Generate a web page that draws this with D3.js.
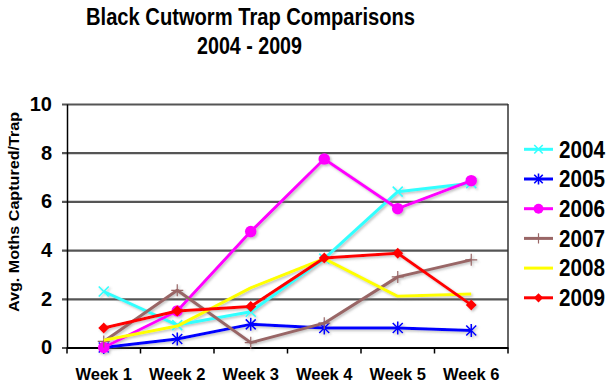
<!DOCTYPE html>
<html><head><meta charset="utf-8">
<script src="https://cdn.jsdelivr.net/npm/d3@7"></script>
<style>
html,body{margin:0;padding:0;background:#fff;}
svg{display:block;font-family:"Liberation Sans",Arial,Helvetica,sans-serif;}
</style></head>
<body>
<svg id="chart" width="613" height="390"></svg>
<script>
const weeks = ["Week 1","Week 2","Week 3","Week 4","Week 5","Week 6"];
const yTicks = [0,2,4,6,8,10];
const years = ["2004","2005","2006","2007","2008","2009"];
const v2004 = [2.3, 0.92, 1.47, 3.65, 6.4, 6.75];
const v2005 = [0.0, 0.35, 0.95, 0.8, 0.8, 0.7];
const v2006 = [0.0, 1.5, 4.76, 7.74, 5.7, 6.85];
const v2007 = [0.25, 2.35, 0.2, 1.0, 2.9, 3.6];
const v2008 = [0.3, 0.88, 2.45, 3.65, 2.1, 2.2];
const v2009 = [0.8, 1.5, 1.68, 3.68, 3.87, 1.75];
const colors = ["#33ffff","#0000ff","#ff00ff","#996666","#ffff00","#ff0000"];
const markers = ["x","asterisk","circle","plus","none","diamond"];
const seriesValues = [v2004, v2005, v2006, v2007, v2008, v2009];

(function(){
const svg = d3.select("#chart");
const pL = 67, pR = 508, pT = 104, pB = 347.5;

const x = d3.scaleBand().domain(weeks).range([pL, pR]);
const cx = d => x(d) + x.bandwidth()/2;
const y = d3.scaleLinear().domain([0,10]).range([pB, pT]);

const defs = svg.append("defs");
const f = defs.append("filter").attr("id","sh").attr("x","-10%").attr("y","-10%").attr("width","130%").attr("height","130%");
f.append("feDropShadow").attr("dx",1.5).attr("dy",1.5).attr("stdDeviation",0.8)
  .attr("flood-color","#777").attr("flood-opacity",0.45);

svg.append("text").attr("x",250.5).attr("y",24.5).attr("text-anchor","middle")
  .attr("font-size",23.5).attr("font-weight","bold")
  .attr("textLength",329).attr("lengthAdjust","spacingAndGlyphs")
  .text("Black Cutworm Trap Comparisons");
svg.append("text").attr("x",249.5).attr("y",53.5).attr("text-anchor","middle")
  .attr("font-size",23.5).attr("font-weight","bold")
  .attr("textLength",105).attr("lengthAdjust","spacingAndGlyphs")
  .text("2004 - 2009");

const grid = svg.append("g").attr("transform",`translate(${pL},0)`)
  .call(d3.axisLeft(y).tickValues(yTicks).tickSize(-(pR-pL)).tickFormat(""));
grid.select(".domain").remove();
grid.selectAll(".tick line").attr("x1",-5).attr("stroke","#555").attr("stroke-width",2.2);

const ya = svg.append("g").attr("transform",`translate(${pL},0)`)
  .call(d3.axisLeft(y).tickValues(yTicks).tickSize(0).tickPadding(15).tickFormat(d3.format("d")));
ya.select(".domain").attr("stroke","#000").attr("stroke-width",1.5);
ya.selectAll(".tick text").attr("font-size",20).attr("font-weight","bold").attr("fill","#000")
  .attr("font-family","Liberation Sans, Arial, sans-serif");

svg.append("line").attr("x1",pR).attr("x2",pR).attr("y1",y(10)).attr("y2",y(0))
  .attr("stroke","#333").attr("stroke-width",1.5);

const xa = svg.append("g").attr("transform",`translate(0,${pB})`)
  .call(d3.axisBottom(x).tickSize(0).tickPadding(21));
xa.select(".domain").attr("stroke","#000").attr("stroke-width",2);
xa.selectAll(".tick text").attr("font-size",16.5).attr("font-weight","bold").attr("fill","#000")
  .attr("font-family","Liberation Sans, Arial, sans-serif");
const bounds = weeks.map(w => x(w)).concat([x.range()[1]]);
svg.append("g").selectAll("line").data(bounds).join("line")
  .attr("x1",d=>d).attr("x2",d=>d).attr("y1",pB).attr("y2",pB+6)
  .attr("stroke","#000").attr("stroke-width",1.5);

svg.append("text").attr("transform","translate(19,212) rotate(-90)")
  .attr("text-anchor","middle").attr("font-size",15.5).attr("font-weight","bold")
  .attr("textLength",200).attr("lengthAdjust","spacingAndGlyphs")
  .text("Avg. Moths Captured/Trap");

function drawMarker(g, type, color, px, py, scale){
  const s = scale || 1;
  if(type==="x"){
    const r=5*s;
    g.append("path").attr("d",`M${px-r},${py-r}L${px+r},${py+r}M${px-r},${py+r}L${px+r},${py-r}`)
      .attr("stroke",color).attr("stroke-width",1.6).attr("fill","none");
  } else if(type==="asterisk"){
    const r=5*s;
    g.append("path").attr("d",`M${px-r},${py-r}L${px+r},${py+r}M${px-r},${py+r}L${px+r},${py-r}M${px},${py-r*1.3}L${px},${py+r*1.3}`)
      .attr("stroke",color).attr("stroke-width",1.6).attr("fill","none");
  } else if(type==="circle"){
    g.append("circle").attr("cx",px).attr("cy",py).attr("r",5.8*s).attr("fill",color);
  } else if(type==="plus"){
    const r=6*s;
    g.append("path").attr("d",`M${px-r},${py}L${px+r},${py}M${px},${py-r}L${px},${py+r}`)
      .attr("stroke",color).attr("stroke-width",1.2).attr("fill","none");
  } else if(type==="diamond"){
    const r=5.5*s;
    g.append("path").attr("d",`M${px},${py-r}L${px+r},${py}L${px},${py+r}L${px-r},${py}Z`).attr("fill",color);
  }
}

const line = d3.line().x((d,i)=>cx(weeks[i])).y(d=>y(d));
const plot = svg.append("g").attr("filter","url(#sh)");
seriesValues.forEach((vals, si) => {
  const g = plot.append("g");
  g.append("path").datum(vals).attr("d",line).attr("fill","none")
    .attr("stroke",colors[si]).attr("stroke-width",3).attr("stroke-linejoin","round");
  vals.forEach((v,i) => drawMarker(g, markers[si], colors[si], cx(weeks[i]), y(v)));
});

const lg = svg.append("g");
years.forEach((yr, i) => {
  const ly = 149.3 + i*29.7;
  const g = lg.append("g");
  g.append("line").attr("x1",524).attr("x2",553).attr("y1",ly).attr("y2",ly)
    .attr("stroke",colors[i]).attr("stroke-width",3);
  drawMarker(g, markers[i], colors[i], 538.5, ly, 0.85);
  g.append("text").attr("x",559).attr("y",ly).attr("dy","0.36em")
    .attr("font-size",23).attr("font-weight","bold")
    .attr("textLength",46).attr("lengthAdjust","spacingAndGlyphs")
    .text(yr);
});
})();
</script>
</body></html>
